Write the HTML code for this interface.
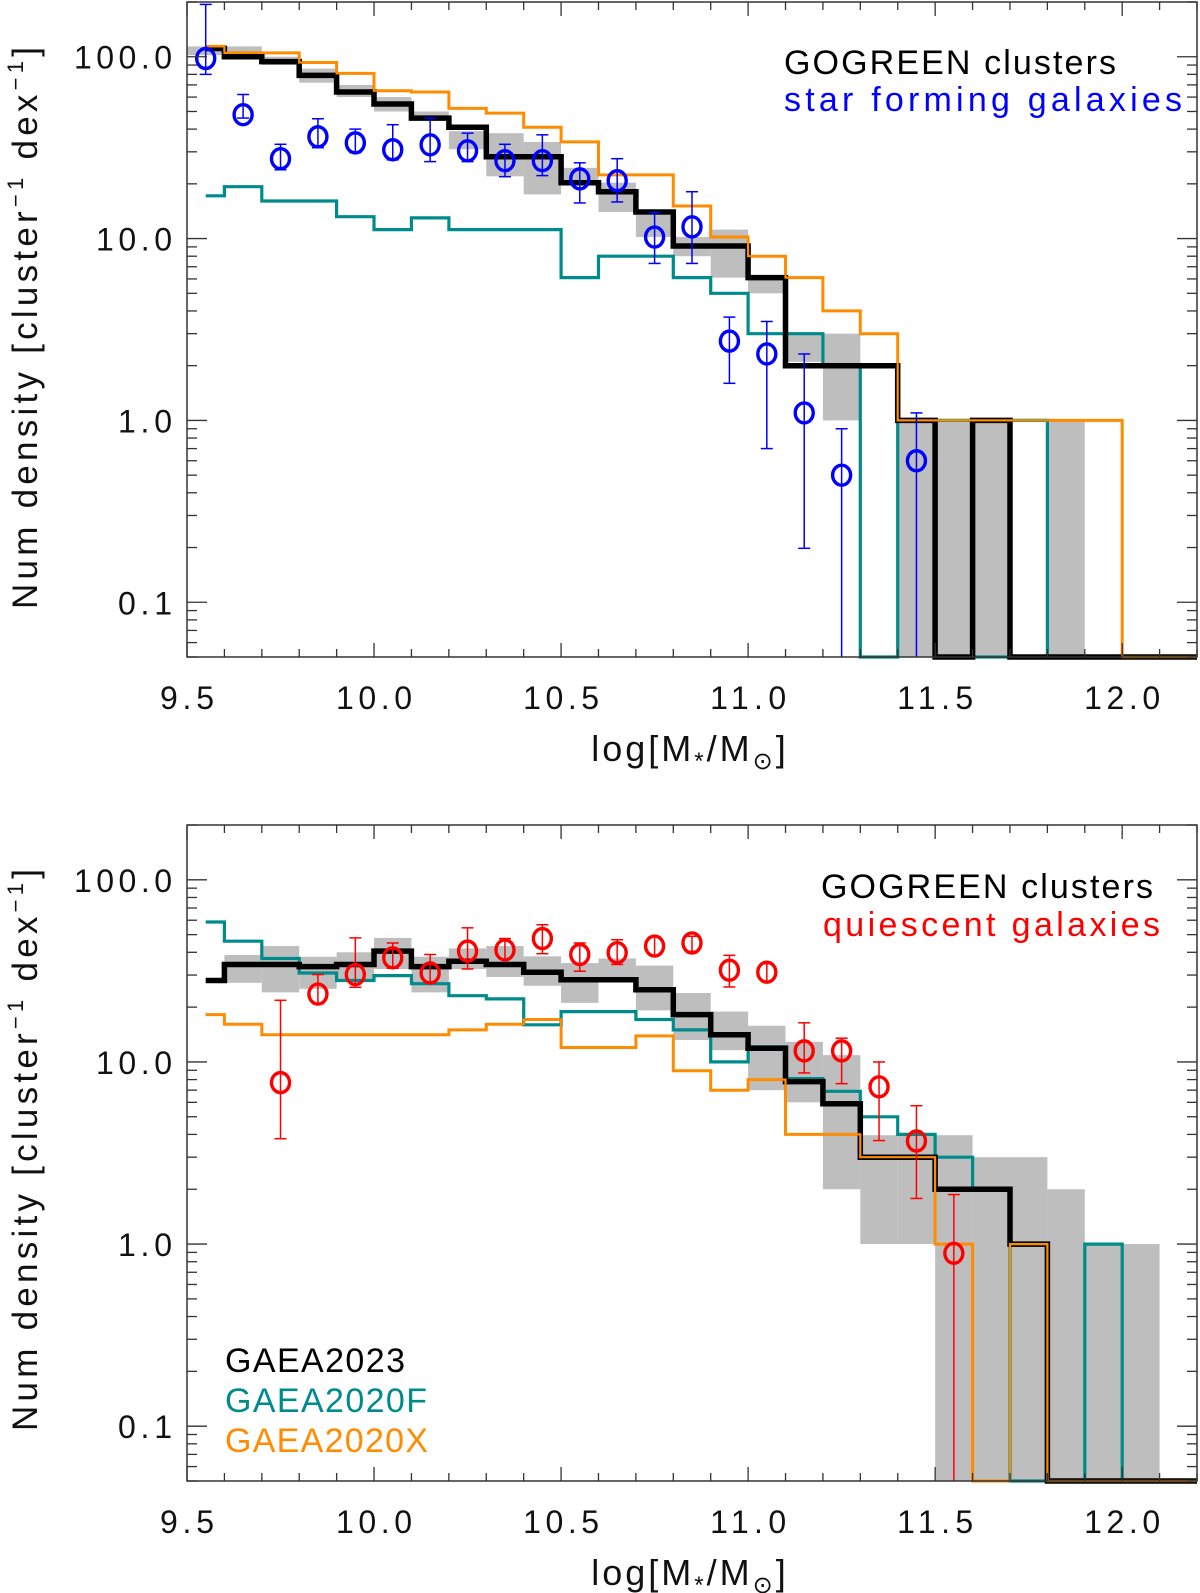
<!DOCTYPE html>
<html><head><meta charset="utf-8"><style>
html,body{margin:0;padding:0;background:#fff}
svg{display:block}
text{font-family:"Liberation Sans",sans-serif}
</style></head><body>
<svg id="chart" xmlns="http://www.w3.org/2000/svg" width="1200" height="1593" viewBox="0 0 1200 1593">
<rect x="0" y="0" width="1200" height="1593" fill="#fff"/>
<g id="top"></g>
<g id="bot"></g>
</svg>
<script>
// categories: bin centers (log stellar mass)
const binCenters = [9.55,9.65,9.75,9.85,9.95,10.05,10.15,10.25,10.35,10.45,10.55,10.65,10.75,10.85,10.95,11.05,11.15,11.25,11.35,11.45,11.55,11.65,11.75,11.85,11.95,12.05,12.15];
// top panel (star forming) model series
const topGaea2023 = [111,100,94,79,64,55,46,41,28.2,28.2,20.3,18.1,14,9.1,9.1,6.1,2,2,2,1,0,1,0,0,0,0,0];
const topGaea2020X = [114,105,105,93,81,65,64,52,49,41,34,22.4,22.4,15.1,10.2,8,6.1,4,3,1,1,1,1,1,1,0,0];
const topGaea2020F = [17.2,19.3,16.1,16.1,13.2,11.2,13,11.2,11.2,11.2,6.1,8,8,6.1,5,3,3,2,0,1,1,0,1,0,0,0,0];
const topBandLo = [102,100,90,72,60,50,45,31,22,17.5,20.3,14,10.2,8,6.1,5,2.1,1,0,0.01,0.01,0.01,0,0.01,0,0,0];
const topBandHi = [114,114,100,86,70,60,50,39,38,34,24.5,20.3,13.5,10.2,11.2,6.1,3,3,0,1,1,1,0,1,0,0,0];
// top panel observed points
const sfMass = [9.55,9.65,9.75,9.85,9.95,10.05,10.15,10.25,10.35,10.45,10.55,10.65,10.75,10.85,10.95,11.05,11.15,11.25,11.45];
const sfValue = [97.8,48,27.5,36.3,33.6,30.8,32.8,30.4,26.8,26.8,21.3,20.8,10.2,11.6,2.73,2.32,1.1,0.5,0.6];
const sfUpper = [194,62,33,45.6,40,42.3,46,38,33,37.2,26.1,27.5,13.9,18.1,3.7,3.5,2.32,0.9,1.1];
const sfLower = [80,46,23.9,31.6,29.7,27.1,26.5,26.5,21.9,22.2,15.7,15.9,7.3,7.3,1.6,0.7,0.198,0.01,0.01];
// bottom panel (quiescent) model series
const botGaea2023 = [28,34.3,34.3,33.4,34.3,40.6,33.4,35.7,34.3,31.1,28.3,28.3,24.9,18.2,14.1,11.9,7.8,5.9,3,3,2,2,1,0,0,0,0];
const botGaea2020X = [18.2,16.1,14.1,14.1,14.1,14.1,14.1,15,16.1,17.1,12,12,13.9,8.95,7,8,4,4,3,3,1,0,1,0,0,0,0];
const botGaea2020F = [58.7,46,37,30.8,28,29.8,26.9,23.1,22.2,16,18.9,18.9,17.1,15,10,12.1,8.1,6.9,5,4,3,2,0,0,1,0,0];
const botBandLo = [0,27.2,24.1,25.2,28.5,32.4,24.1,32.4,29.3,26.2,21.1,27.4,19.2,13.2,11.6,7,6,2,1,1,0.01,0.01,0.01,0.01,0.01,0.01,0];
const botBandHi = [0,38.7,43.3,37.8,40,48,37.8,42,43.3,38,34.9,37,33.8,23.9,18.9,15.8,12.9,10.9,3.96,3.96,3.96,3,3,2,1,1,0];
// bottom panel observed points
const qMass = [9.75,9.85,9.95,10.05,10.15,10.25,10.35,10.45,10.55,10.65,10.75,10.85,10.95,11.05,11.15,11.25,11.35,11.45,11.55];
const qValue = [7.7,23.6,30.2,37.3,30.8,40.6,41.2,47.6,38.9,39.8,43.3,45,31.9,31.1,11.5,11.5,7.3,3.68,0.89];
const qUpper = [21.8,30.2,48,45,38.9,54.5,47.6,56.7,45,46.9,48.7,49,38.5,34.6,16.4,13.5,10,5.75,1.87];
const qLower = [3.79,20.9,25.7,32.7,27.2,32.4,36.8,39.3,31.5,34.3,38.5,40.5,25.8,27.8,8.7,7.6,3.7,1.78,0.01];
// axis ticks
const xTickLabels = ["9.5","10.0","10.5","11.0","11.5","12.0"];
const xTickValues = [9.5,10.0,10.5,11.0,11.5,12.0];
const yTickLabels = ["100.0","10.0","1.0","0.1"];
const yTickValues = [100,10,1,0.1];

const NS = "http://www.w3.org/2000/svg";
const XMIN = 9.5, XMAX = 12.2, YMIN = 0.05, YMAX = 200;
const LEFT = 187, RIGHT = 1197;
function mk(tag, attrs, parent){ const e=document.createElementNS(NS,tag); for(const k in attrs) e.setAttribute(k,attrs[k]); parent.appendChild(e); return e; }
function xScale(v){ return LEFT + (v - XMIN) / (XMAX - XMIN) * (RIGHT - LEFT); }
function makeY(T,B){ return v => { const c=Math.max(YMIN,Math.min(YMAX,v)); return B - (Math.log10(c)-Math.log10(YMIN))/(Math.log10(YMAX)-Math.log10(YMIN))*(B-T); }; }
const HW = 0.05;
function labelWidth(s){ let w=0; for(const ch of s) w += (ch==='.')?10:22; return w; }

function drawPanel(g, T, B, p){
  const y = makeY(T,B);
  for(let i=0;i<binCenters.length;i++){
    if(!(p.hi[i]>0)) continue;
    const x0=xScale(Math.max(XMIN,binCenters[i]-HW)), x1=xScale(binCenters[i]+HW);
    const r=mk('rect',{x:x0,y:y(p.hi[i]),width:x1-x0,height:y(p.lo[i]>0?p.lo[i]:YMIN)-y(p.hi[i]),fill:'#bebebe'},g);
    
    
  }
  function step(vals,color,w,name){
    let d='';
    for(let i=0;i<binCenters.length;i++){
      const xa = i===0 ? xScale(binCenters[0]) : xScale(binCenters[i]-HW);
      const xb = i===binCenters.length-1 ? xScale(XMAX) : xScale(binCenters[i]+HW);
      const yy = y(vals[i]>0?vals[i]:YMIN);
      d += (i===0?'M':'L')+xa.toFixed(1)+','+yy.toFixed(1)+' L'+xb.toFixed(1)+','+yy.toFixed(1)+' ';
    }
    const pth=mk('path',{d:d,fill:'none',stroke:color,'stroke-width':w,'stroke-linejoin':'miter','stroke-linecap':'butt'},g);
    
    
  }
  step(p.orange,'#ff8c00',3,'gaea2020x-line');
  step(p.teal,'#008b8b',3.2,'gaea2020f-line');
  step(p.black,'#000000',5.5,'gaea2023-line');
  step(p.orange,'#ff8c00',2.2,'gaea2020x-line-overlay');
  for(let i=0;i<p.px.length;i++){
    const cx=xScale(p.px[i]);
    const gp=mk('g',{},g);
    
    
    const yu=y(p.pu[i]), yl=y(p.pl[i]);
    mk('line',{x1:cx,x2:cx,y1:yu,y2:yl,stroke:p.pc,'stroke-width':1.5},gp);
    mk('line',{x1:cx-6,x2:cx+6,y1:yu,y2:yu,stroke:p.pc,'stroke-width':1.5},gp);
    if(p.pl[i]>YMIN) mk('line',{x1:cx-6,x2:cx+6,y1:yl,y2:yl,stroke:p.pc,'stroke-width':1.5},gp);
    mk('ellipse',{cx:cx,cy:y(p.pv[i]),rx:9,ry:10,fill:'none',stroke:p.pc,'stroke-width':3.4},gp);
  }
  const fr=mk('rect',{x:LEFT,y:T,width:RIGHT-LEFT,height:B-T,fill:'none',stroke:'#333','stroke-width':1.5},g);
  
  
  for(let k=0;k<=27;k++){
    const v=XMIN+k*0.1; const x=xScale(v); const major=(k%5===0); const L=major?14:8;
    mk('line',{x1:x,x2:x,y1:B,y2:B-L,stroke:'#333','stroke-width':1.3},g);
    mk('line',{x1:x,x2:x,y1:T,y2:T+L,stroke:'#333','stroke-width':1.3},g);
  }
  for(let i=0;i<xTickLabels.length;i++){
    const t=mk('text',{x:xScale(xTickValues[i]),y:B+52,'font-size':32,'text-anchor':'middle',fill:'#111',textLength:labelWidth(xTickLabels[i]),lengthAdjust:'spacing'},g);
    t.textContent=xTickLabels[i];
    
    
  }
  for(let e=-2;e<=2;e++){
    for(let m=1;m<=9;m++){
      const v=m*Math.pow(10,e); if(v<YMIN||v>YMAX) continue;
      const yy=y(v); const L=(m===1)?20:10;
      mk('line',{x1:LEFT,x2:LEFT+L,y1:yy,y2:yy,stroke:'#333','stroke-width':1.3},g);
      mk('line',{x1:RIGHT,x2:RIGHT-L,y1:yy,y2:yy,stroke:'#333','stroke-width':1.3},g);
    }
  }
  for(let i=0;i<yTickLabels.length;i++){
    const w=labelWidth(yTickLabels[i]);
    const t=mk('text',{x:172-w,y:y(yTickValues[i])+12,'font-size':32,fill:'#111',textLength:w,lengthAdjust:'spacing'},g);
    t.textContent=yTickLabels[i];
    
    
  }
  const xt=mk('text',{x:690,y:B+104,'font-size':36,'text-anchor':'middle',fill:'#111','letter-spacing':'3'},g);
  xt.innerHTML='log[M<tspan font-size="24" dy="8">*</tspan><tspan dy="-8">/M</tspan><tspan font-size="24" dy="8">⊙</tspan><tspan dy="-8">]</tspan>';
  
  
  const cy=p.ytc;
  const yt=mk('text',{x:0,y:0,'font-size':35,'text-anchor':'middle',fill:'#111',textLength:562,lengthAdjust:'spacing',transform:'translate(37,'+cy+') rotate(-90)'},g);
  yt.innerHTML='Num density [cluster<tspan font-size="22" dy="-14">−1</tspan><tspan dy="14"> dex</tspan><tspan font-size="22" dy="-14">−1</tspan><tspan dy="14">]</tspan>';
  
  
  p.legend.forEach(L=>{
    const t=mk('text',{x:L.x,y:L.y,'font-size':34,fill:L.c,textLength:L.w,lengthAdjust:'spacing'},g);
    t.textContent=L.t;
    
    
  });
}

drawPanel(document.getElementById('top'), 2, 657, {
  black:topGaea2023, orange:topGaea2020X, teal:topGaea2020F, lo:topBandLo, hi:topBandHi,
  px:sfMass, pv:sfValue, pu:sfUpper, pl:sfLower, pc:'#0000ff', ytc:328,
  legend:[
    {t:'GOGREEN clusters',x:784,y:74,w:332,c:'#000',n:'legend-gogreen-clusters'},
    {t:'star forming galaxies',x:784,y:111,w:398,c:'#0000ff',n:'legend-star-forming'}
  ]});
drawPanel(document.getElementById('bot'), 825, 1481, {
  black:botGaea2023, orange:botGaea2020X, teal:botGaea2020F, lo:botBandLo, hi:botBandHi,
  px:qMass, pv:qValue, pu:qUpper, pl:qLower, pc:'#ff0000', ytc:1150,
  legend:[
    {t:'GOGREEN clusters',x:821,y:898,w:332,c:'#000',n:'legend-gogreen-clusters'},
    {t:'quiescent galaxies',x:823,y:936,w:337,c:'#ff0000',n:'legend-quiescent'},
    {t:'GAEA2023',x:225,y:1372,w:180,c:'#000',n:'legend-gaea2023'},
    {t:'GAEA2020F',x:225,y:1412,w:202,c:'#008b8b',n:'legend-gaea2020f'},
    {t:'GAEA2020X',x:225,y:1452,w:203,c:'#ff8c00',n:'legend-gaea2020x'}
  ]});
</script>
</body></html>
